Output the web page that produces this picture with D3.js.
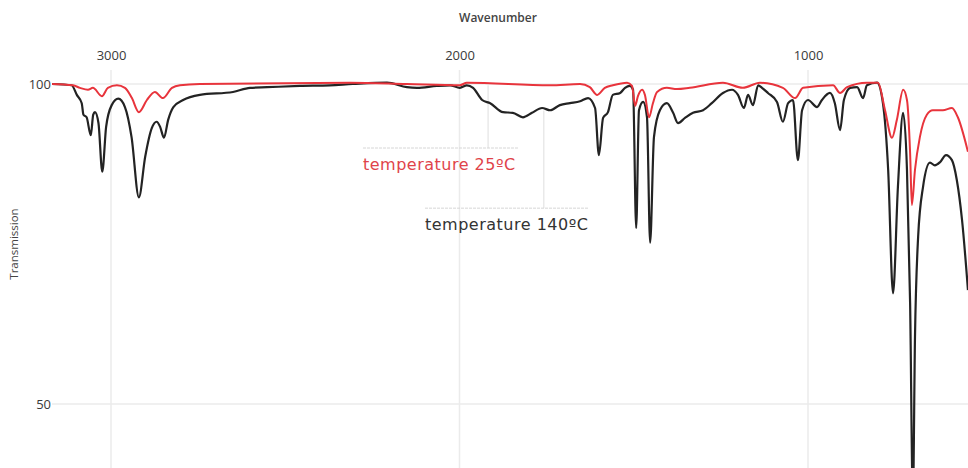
<!DOCTYPE html>
<html>
<head>
<meta charset="utf-8">
<script src="https://cdn.jsdelivr.net/npm/d3@7"></script>
<style>
  html, body { margin: 0; padding: 0; background: #fff; }
  svg { display: block; }
</style>
</head>
<body>
<svg id="chart" width="968" height="468"></svg>
<script>
// ---- Data ----
const xTicks = [3000, 2000, 1000];
const yTicks = [100, 50];

// 140 °C spectrum (black)
const wnBlack = [3169,3113,3098,3084,3079,3070,3058,3051,3046,3036,3025,3014,2998,2979,2960,2941,2920,2902,2883,2869,2859,2848,2836,2821,2793,2745,2650,2601,2552,2458,2372,2306,2208,2151,2122,2065,2027,1999,1979,1961,1935,1912,1875,1847,1818,1792,1763,1740,1712,1683,1654,1631,1611,1600,1588,1574,1560,1539,1525,1511,1502,1493,1485,1473,1462,1453,1442,1425,1405,1387,1373,1353,1330,1301,1276,1244,1218,1201,1184,1172,1158,1143,1132,1115,1089,1072,1057,1043,1029,1017,1000,974,960,937,923,908,897,879,859,842,831,802,785,770,756,742,727,716,707,699,693,684,670,650,636,621,604,587,573,558,541];
const tBlack = [100,99.8,98.3,97.0,95.2,94.8,92.0,95.2,95.6,93.9,86.3,93.3,96.7,97.7,96.4,91.7,82.3,88.6,93.1,94.1,93.3,91.6,94.4,96.4,97.5,98.3,98.75,99.4,99.5,99.7,99.8,100,100.2,99.5,99.4,99.7,99.8,99.4,99.8,99.4,97.5,97.0,95.6,95.5,94.8,95.5,96.25,95.9,96.7,97.0,97.3,97.8,96.25,88.9,94.7,95.6,98.3,98.6,99.4,99.7,99.1,77.5,95.9,97.2,94.8,75.2,91.7,95.9,97.0,95.5,93.9,94.7,95.5,95.9,97.0,98.6,99.1,98.3,96.25,98.3,96.7,99.8,99.4,98.6,97.2,94.1,97.0,97.5,88.1,95.9,97.5,96.4,97.5,98.6,97.0,92.8,97.5,99.4,99.5,97.8,99.8,100.2,97.0,86.6,67.3,83.9,95.5,86.6,65.8,35.0,60.5,76.1,83.9,87.7,87.3,87.8,88.9,88.1,85.0,78.75,67.8];

// 25 °C spectrum (red)
const wnRed = [3169,3109,3089,3066,3052,3026,3009,2983,2960,2940,2920,2897,2874,2851,2825,2802,2745,2314,2151,1999,1979,1740,1654,1626,1605,1583,1560,1519,1505,1496,1488,1476,1468,1456,1445,1433,1405,1376,1339,1244,1187,1138,1072,1037,1014,928,908,888,831,799,779,759,745,727,716,707,702,693,679,659,642,613,587,570,541];
const tRed = [100,99.8,99.4,99.1,99.4,98.1,99.4,99.8,99.4,97.8,95.6,97.5,98.75,97.8,99.4,99.8,100,100.2,100,99.8,100.2,99.8,100,99.5,98.3,99.4,99.8,100.2,99.7,96.6,98.1,99.1,98.3,94.8,97.0,98.75,99.4,99.2,99.4,100.2,99.4,100.2,99.4,97.8,99.4,99.8,98.6,99.5,100.2,100.2,95.9,91.6,94.4,99.1,97.5,89.2,81.1,86.6,91.7,95.2,95.9,95.9,96.25,94.8,89.4];

// Annotations: label, wavenumber of leader line, transmission level of the rule
const annLabels = ["temperature 25ºC", "temperature 140ºC"];
const annWn = [1918, 1758];
const annLevel = [90, 80.6];
const annRuleFrom = [2277, 2099];   // wavenumbers at rule ends
const annRuleTo = [1832, 1631];

// ---- Scales ----
const svg = d3.select("#chart");
const W = 968, H = 468;
const x = d3.scaleLinear().domain([3000, 1000]).range([111, 808]);
const y = d3.scaleLinear().domain([50, 100]).range([404, 84]);
const plotLeft = 52;

// ---- Grid ----
const grid = svg.append("g");
grid.selectAll("line.h").data(yTicks).join("line")
  .attr("x1", plotLeft).attr("x2", W)
  .attr("y1", d => y(d)).attr("y2", d => y(d))
  .attr("stroke", "#ebebeb").attr("stroke-width", 1.5);
grid.selectAll("line.v").data(xTicks).join("line")
  .attr("x1", d => x(d)).attr("x2", d => x(d))
  .attr("y1", 70).attr("y2", H)
  .attr("stroke", "#ebebeb").attr("stroke-width", 1.5);

// ---- Axes ----
const xAxis = d3.axisTop(x).tickValues(xTicks).tickSize(0).tickPadding(0).tickFormat(d3.format("d"));
const gx = svg.append("g").attr("transform", "translate(0,60)").call(xAxis);
gx.select(".domain").remove();
gx.selectAll("text").attr("font-family", "Open Sans, sans-serif").attr("font-size", 13).attr("fill", "#3a3a3a");

const yAxis = d3.axisLeft(y).tickValues(yTicks).tickSize(0).tickPadding(0).tickFormat(d3.format("d"));
const gy = svg.append("g").attr("transform", "translate(51,0)").call(yAxis);
gy.select(".domain").remove();
gy.selectAll("text").attr("font-family", "Open Sans, sans-serif").attr("font-size", 13).attr("fill", "#3a3a3a");

svg.append("text").attr("x", 498).attr("y", 22).attr("text-anchor", "middle")
  .attr("font-family", "Open Sans, sans-serif").attr("font-size", 12).attr("font-weight", 600).attr("fill", "#444")
  .text("Wavenumber");
svg.append("text").attr("transform", "translate(18,244) rotate(-90)").attr("text-anchor", "middle")
  .attr("font-family", "Open Sans, sans-serif").attr("font-size", 11.5).attr("fill", "#444")
  .text("Transmission");

// ---- Annotation leaders ----
const curveT = [tRed, tBlack];
const curveWn = [wnRed, wnBlack];
function valueAt(wns, ts, w) {
  for (let i = 0; i < wns.length - 1; i++) {
    if (wns[i] >= w && wns[i + 1] <= w) {
      const f = (wns[i] - w) / (wns[i] - wns[i + 1]);
      return ts[i] + f * (ts[i + 1] - ts[i]);
    }
  }
  return 100;
}
const annColors = ["#e0434a", "#333333"];
annLabels.forEach((lab, i) => {
  const g = svg.append("g");
  g.append("line")
    .attr("x1", x(annWn[i])).attr("x2", x(annWn[i]))
    .attr("y1", y(valueAt(curveWn[i], curveT[i], annWn[i])) + 2).attr("y2", y(annLevel[i]))
    .attr("stroke", "#dedede").attr("stroke-width", 1);
  g.append("line")
    .attr("x1", x(annRuleFrom[i])).attr("x2", x(annRuleTo[i]))
    .attr("y1", y(annLevel[i])).attr("y2", y(annLevel[i]))
    .attr("stroke", "#d6d6d6").attr("stroke-width", 1).attr("stroke-dasharray", "3,1");
  g.append("text")
    .attr("x", x(annRuleFrom[i])).attr("y", y(annLevel[i]) + 22)
    .attr("font-family", "DejaVu Sans, sans-serif").attr("font-size", 16)
    .attr("letter-spacing", 0.5)
    .attr("fill", annColors[i]).text(lab);
});

// ---- Lines ----
const line = d3.line().x(d => x(d[0])).y(d => y(d[1])).curve(d3.curveMonotoneX);
const dataBlack = wnBlack.map((w, i) => [w, tBlack[i]]);
const dataRed = wnRed.map((w, i) => [w, tRed[i]]);

svg.append("defs").append("clipPath").attr("id", "clip")
  .append("rect").attr("x", plotLeft).attr("y", 0).attr("width", W - plotLeft).attr("height", H);

const lines = svg.append("g").attr("clip-path", "url(#clip)");
lines.append("path").datum(dataBlack).attr("d", line)
  .attr("fill", "none").attr("stroke", "#232323").attr("stroke-width", 2.2).attr("stroke-linejoin", "round");
lines.append("path").datum(dataRed).attr("d", line)
  .attr("fill", "none").attr("stroke", "#e8343c").attr("stroke-width", 2).attr("stroke-linejoin", "round");
</script>
</body>
</html>
